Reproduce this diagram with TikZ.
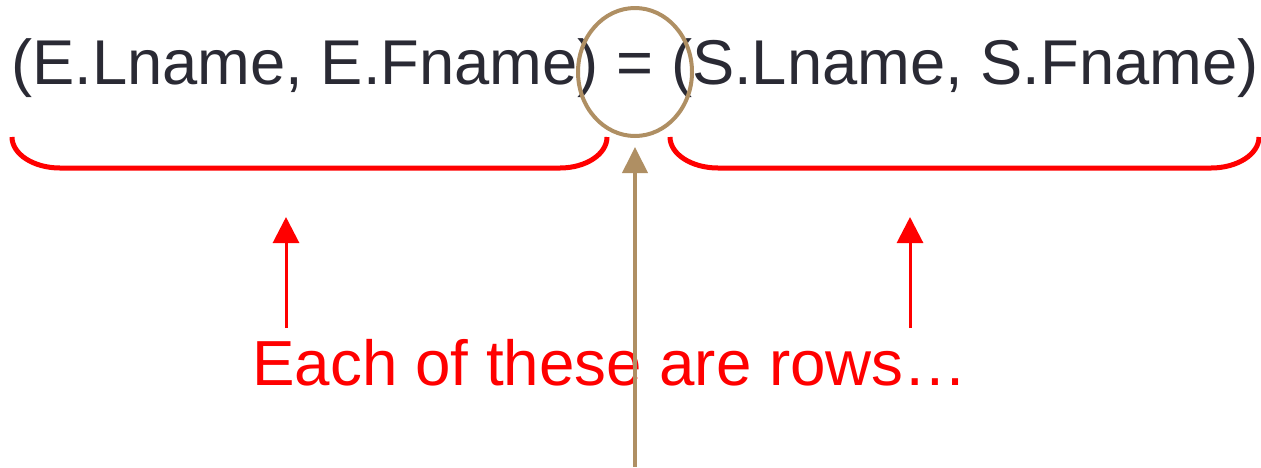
\documentclass[tikz,border=0pt]{standalone}
\usepackage{fontspec}
\setmainfont{Liberation Sans}
\usetikzlibrary{arrows.meta,shapes.geometric}
\definecolor{ink}{RGB}{42,42,52}
\definecolor{tan}{RGB}{175,143,99}
\definecolor{myred}{RGB}{255,0,0}
\tikzset{
  brace/.style={draw=myred,line width=5pt},
  redarrow/.style={draw=myred,line width=3pt,-{Triangle[length=26pt,width=26pt]}},
  tanarrow/.style={draw=tan,line width=4pt,-{Triangle[length=26pt,width=25pt]}},
  ring/.style={draw=tan,line width=4pt,ellipse,minimum width=114pt,minimum height=128pt,inner sep=0pt},
}
\begin{document}
\begin{tikzpicture}[x=1pt,y=1pt]
\useasboundingbox (0,0) rectangle (1261,-467);
\node[text=ink,inner sep=0pt,anchor=base,font=\fontsize{63.3}{70}\selectfont] (eq) at (635,-84) {(E.Lname, E.Fname) = (S.Lname, S.Fname)};
\node[ring] (ring) at (635,-72) {};
\draw[brace] (12,-137) arc[start angle=180,end angle=270,x radius=48,y radius=31] -- (560,-168) arc[start angle=270,end angle=360,x radius=47,y radius=31];
\draw[brace] (670,-137) arc[start angle=180,end angle=270,x radius=48,y radius=31] -- (1211,-168) arc[start angle=270,end angle=360,x radius=48,y radius=31];
\node[text=myred,inner sep=0pt,anchor=base,font=\fontsize{63.7}{70}\selectfont] (rows) at (610,-385) {Each of these are rows…};
\coordinate (la0) at (286,-328);
\coordinate (la1) at (286,-217);
\coordinate (ra0) at (910,-328);
\coordinate (ra1) at (910,-217);
\coordinate (ta0) at (635,-467);
\coordinate (ta1) at (635,-147);
\draw[redarrow] (la0) -- (la1);
\draw[redarrow] (ra0) -- (ra1);
\draw[tanarrow] (ta0) -- (ta1);
\end{tikzpicture}
\end{document}
